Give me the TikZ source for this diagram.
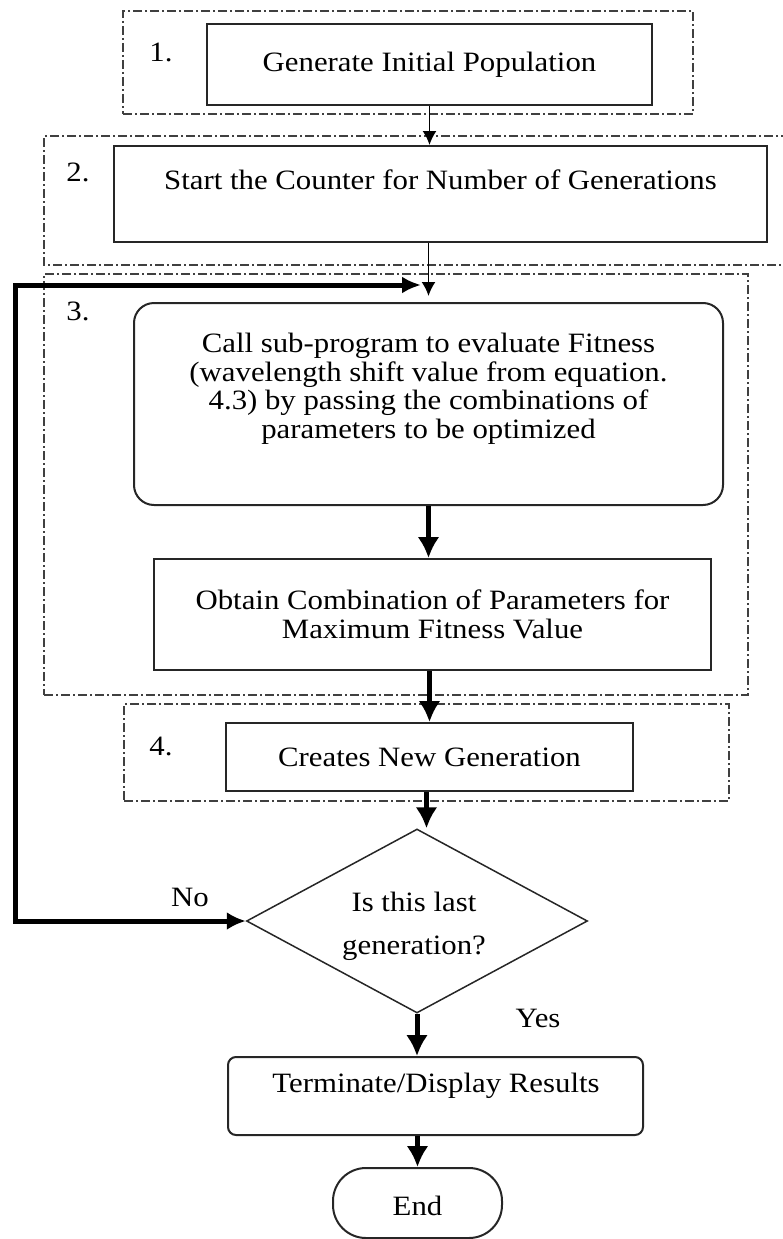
\documentclass[tikz,border=0pt]{standalone}
\usepackage{fontspec}
\setmainfont{Liberation Serif}[FakeStretch=1.1]
\usetikzlibrary{arrows.meta,shapes.geometric}
\begin{document}
\begin{tikzpicture}[x=1pt,y=-1pt,
  every node/.style={font=\fontsize{28}{28.5}\selectfont, inner sep=0pt, text=black},
  stage/.style={draw=black!75, line width=1.2pt,
    dash pattern=on 9pt off 3pt on 2pt off 3pt},
  procbox/.style={draw=black!85, line width=2pt, rectangle, align=center},
  roundbox/.style={procbox, rounded corners=#1},
  decision/.style={draw=black!85, line width=1.5pt, diamond, aspect=1.85,
    minimum width=341pt, minimum height=184pt},
  steplabel/.style={font=\fontsize{28}{28.5}\selectfont},
  thinarrow/.style={draw=black, line width=1.8pt,
    -{Latex[length=14pt,width=14pt]}},
  thickarrow/.style={draw=black, line width=5pt,
    -{Latex[length=21pt,width=22pt]}},
  looparrow/.style={draw=black, line width=5pt,
    {Latex[length=19pt,width=18pt]}-{Latex[length=19pt,width=17pt]}}
]
\useasboundingbox (0,0) rectangle (782,1239);

% ---- stage frames (dash-dot) ----
\node[stage, minimum width=570pt, minimum height=103pt] (stage1) at (408,62.5) {};
\draw[stage] (790,136) -- (44,136) -- (44,265) -- (790,265);
\node[stage, minimum width=704pt, minimum height=421pt] (stage3) at (396,484.5) {};
\node[stage, minimum width=605pt, minimum height=97pt] (stage4) at (426.5,752.5) {};

% ---- stage numbers ----
\node[steplabel] (num1) at (161,52) {1.};
\node[steplabel] (num2) at (78,172) {2.};
\node[steplabel] (num3) at (78,311) {3.};
\node[steplabel] (num4) at (161,746) {4.};

% ---- process boxes ----
\node[procbox, minimum width=445pt, minimum height=81pt] (box1) at (429.5,64.5)
  {Generate Initial Population};

\node[procbox, minimum width=653pt, minimum height=96pt] (box2) at (440.5,194) {};
\node (box2txt) at (440.5,180) {Start the Counter for Number of Generations};

\node[roundbox=20pt, minimum width=589pt, minimum height=202pt] (box3) at (428.5,404) {};
\node[align=center] (box3txt) at (428.5,389)
  {Call sub-program to evaluate Fitness\\
   (wavelength shift value from equation.\\
   4.3) by passing the combinations of\\
   parameters to be optimized};

\node[procbox, minimum width=557pt, minimum height=111pt] (obtain) at (432.5,614.5)
  {Obtain Combination of Parameters for\\Maximum Fitness Value};

\node[procbox, minimum width=407pt, minimum height=68pt] (box4) at (429.5,757)
  {Creates New Generation};

\node[decision] (dia) at (417,921) {};
\node[align=center, font=\fontsize{28}{43}\selectfont] (diatxt) at (414,926)
  {Is this last\\generation?};

\node[roundbox=8pt, minimum width=415pt, minimum height=78pt] (term) at (435.5,1096) {};
\node (termtxt) at (436,1086) {Terminate/Display Results};

\node[roundbox=33pt, minimum width=169pt, minimum height=70pt] (finish) at (417.5,1203) {};
\node (finishtxt) at (417.5,1206) {End};

% ---- branch labels ----
\node (nolbl) at (190,897) {No};
\node (yeslbl) at (538,1018) {Yes};

% ---- connectors ----
\draw[thinarrow] (box1.south) -- (box1.south |- box2.north);
\draw[thinarrow, shorten >=6pt] (box3.north |- box2.south) -- (box3.north);
\draw[thickarrow] (box3.south) -- (box3.south |- obtain.north);
\draw[thickarrow] (box4.north |- obtain.south) -- (box4.north);
\draw[thickarrow] ([xshift=-3pt]box4.south) -- ([xshift=-3pt]box4.south |- dia.north);
\draw[thickarrow] (dia.south) -- (dia.south |- term.north);
\draw[thickarrow] (finish.north |- term.south) -- (finish.north);

% ---- loop back for the next generation ----
\coordinate (loopx) at (15,0);
\coordinate (loopin) at (421,285);
\draw[looparrow] (dia.west) -- (dia.west -| loopx) -- (loopx |- loopin) -- (loopin);
\end{tikzpicture}
\end{document}
